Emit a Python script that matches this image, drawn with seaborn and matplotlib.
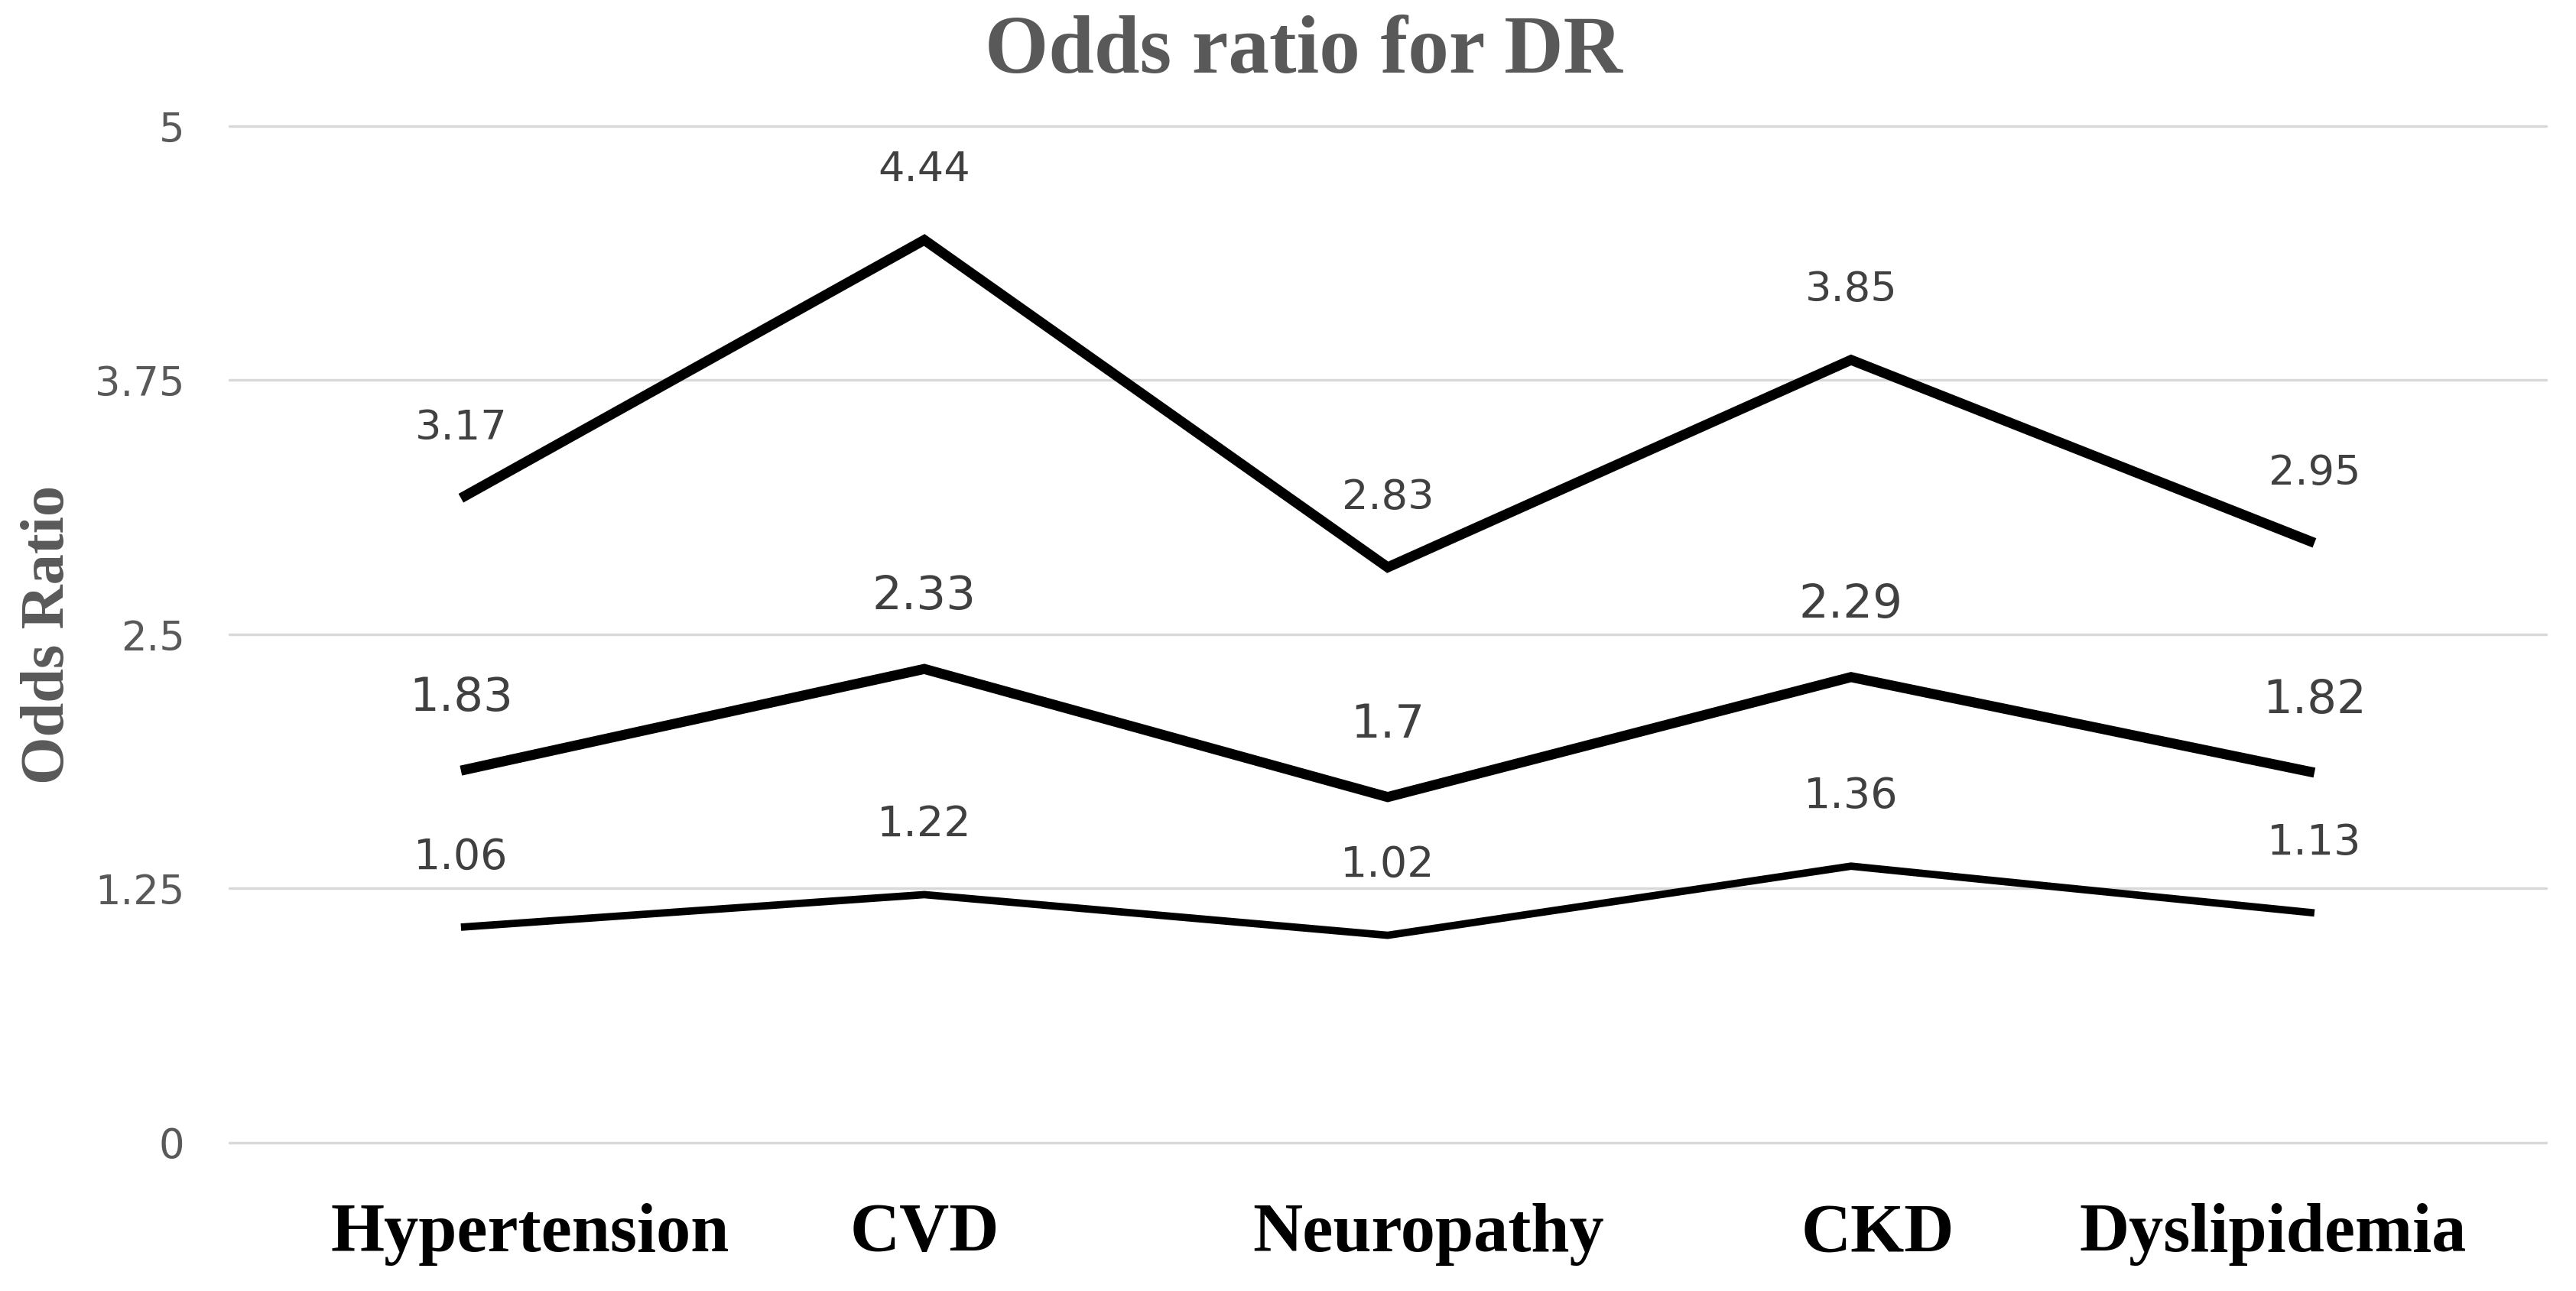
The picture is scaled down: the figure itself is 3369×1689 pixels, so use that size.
import matplotlib
matplotlib.use("Agg")
import matplotlib.pyplot as plt
import matplotlib.transforms as mtransforms
import pandas as pd
import seaborn as sns

# 차트 데이터
categories = ["Hypertension", "CVD", "Neuropathy", "CKD", "Dyslipidemia"]
upper_ci = [3.17, 4.44, 2.83, 3.85, 2.95]
odds_ratio = [1.83, 2.33, 1.70, 2.29, 1.82]
lower_ci = [1.06, 1.22, 1.02, 1.36, 1.13]
y_ticks = [0, 1.25, 2.5, 3.75, 5]
y_tick_labels = ["0", "1.25", "2.5", "3.75", "5"]

sns.set_theme(style="white")
plt.rcParams["font.family"] = ["DejaVu Sans"]

SERIF = ["Liberation Serif", "DejaVu Serif"]
GREY = "#595959"

df = pd.DataFrame({
    "category": categories * 3,
    "value": upper_ci + odds_ratio + lower_ci,
    "series": ["upper"] * 5 + ["or"] * 5 + ["lower"] * 5,
})

# series별 선 두께 / 라벨 크기
styles = {
    "upper": dict(lw=9.5, fs=39, dy=66),
    "or": dict(lw=9.5, fs=44, dy=68),
    "lower": dict(lw=7.0, fs=40, dy=66),
}

fig = plt.figure(figsize=(33.69, 16.89), dpi=100)
ax = fig.add_axes([0.089, 0.1149, 0.8994, 0.7874])

for name, st in styles.items():
    sub = df[df["series"] == name]
    sns.lineplot(data=sub, x="category", y="value", ax=ax, color="black",
                 linewidth=st["lw"], sort=False, legend=False,
                 solid_joinstyle="miter", solid_capstyle="butt")
    for i, v in enumerate(sub["value"]):
        ax.annotate(f"{v:g}", (i, v), xytext=(0, st["dy"]), textcoords="offset points",
                    ha="center", va="center", fontsize=st["fs"], color="#404040")

ax.set_xlim(-0.5, len(categories) - 0.5)
ax.set_ylim(0, 5)
ax.set_yticks(y_ticks)
ax.set_yticklabels(y_tick_labels)
ax.yaxis.grid(True, color="#d9d9d9", linewidth=2.5)
ax.xaxis.grid(False)
for line in ax.get_ygridlines():
    line.set_clip_on(False)
sns.despine(ax=ax, left=True, bottom=True)

ax.tick_params(axis="y", length=0, pad=42, labelsize=38, labelcolor=GREY)
ax.tick_params(axis="x", length=0, pad=57)
ax.set_xlabel("")
for lbl in ax.get_xticklabels():
    lbl.set_fontfamily(SERIF)
    lbl.set_fontweight("bold")
    lbl.set_fontsize(65)
    lbl.set_color("black")

# 원본처럼 x축 라벨 위치를 약간씩 이동
x_offsets = [65, 0, 38, 25, -39]
for lbl, dx in zip(ax.get_xticklabels(), x_offsets):
    lbl.set_transform(lbl.get_transform() + mtransforms.ScaledTranslation(dx / 72, 0, fig.dpi_scale_trans))

ax.set_ylabel("Odds Ratio", fontfamily=SERIF, fontweight="bold", fontsize=58, color=GREY)
ax.yaxis.set_label_coords(-0.066, 0.5)

fig.suptitle("Odds ratio for DR", x=0.506, y=0.944, va="baseline",
             fontfamily=SERIF, fontweight="bold", fontsize=77, color=GREY)

fig.savefig("out.png", dpi=100, facecolor="white")
